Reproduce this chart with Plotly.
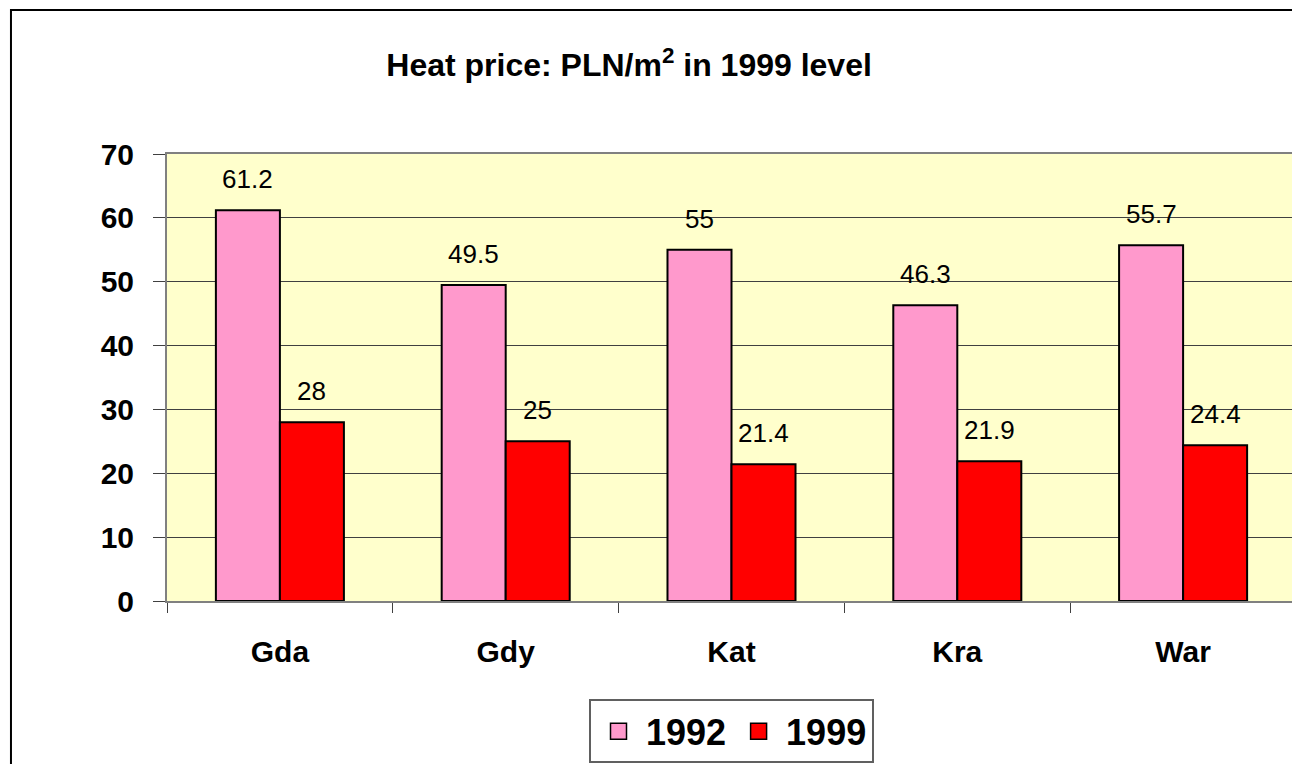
import plotly.graph_objects as go

cities = ["Gda", "Gdy", "Kat", "Kra", "War"]
price_1992 = [61.2, 49.5, 55, 46.3, 55.7]
price_1999 = [28, 25, 21.4, 21.9, 24.4]
label_1992 = ["61.2", "49.5", "55", "46.3", "55.7"]
label_1999 = ["28", "25", "21.4", "21.9", "24.4"]
series_names = ["1992", "1999"]

PINK = "#FF99CC"
RED = "#FF0000"
FONT = "Liberation Sans, Arial, sans-serif"

fig = go.Figure()
fig.add_trace(go.Bar(name=series_names[0], x=cities, y=price_1992, showlegend=False,
                     marker=dict(color=PINK, line=dict(color="black", width=2))))
fig.add_trace(go.Bar(name=series_names[1], x=cities, y=price_1999, showlegend=False,
                     marker=dict(color=RED, line=dict(color="black", width=2))))
# legend entries with larger square swatches
for nm, col in zip(series_names, [PINK, RED]):
    fig.add_trace(go.Scatter(name=nm, x=[None], y=[None], mode="markers",
                             marker=dict(symbol="square", size=16, color=col,
                                         line=dict(color="black", width=1.5))))

annotations = []
for c, v, t in zip(cities, price_1992, label_1992):
    annotations.append(dict(x=c, y=v, text=t, xref="x", yref="y", showarrow=False,
                            xshift=-32, yshift=31, yanchor="middle",
                            font=dict(family=FONT, size=26, color="black")))
for c, v, t in zip(cities, price_1999, label_1999):
    annotations.append(dict(x=c, y=v, text=t, xref="x", yref="y", showarrow=False,
                            xshift=32, yshift=31, yanchor="middle",
                            font=dict(family=FONT, size=26, color="black")))

fig.update_layout(
    width=1292, height=756,
    margin=dict(l=159, r=4, t=146, b=163, autoexpand=False),
    paper_bgcolor="white",
    plot_bgcolor="#FFFFCC",
    barmode="group",
    bargap=0.433,
    bargroupgap=0,
    font=dict(family=FONT, color="black"),
    title=dict(text="<b>Heat price: PLN/m<sup>2</sup> in 1999 level</b>",
               x=0.4807, xref="container", xanchor="center",
               y=1 - 57 / 756, yref="container", yanchor="middle",
               font=dict(family=FONT, size=32, color="black")),
    xaxis=dict(tickson="boundaries", ticks="outside", ticklen=10, tickcolor="#404040",
               tickwidth=1, showline=True, linecolor="#808080", linewidth=2, mirror=True,
               showgrid=False, ticklabelstandoff=23,
               tickfont=dict(family=FONT, size=30, color="black", weight="bold")),
    yaxis=dict(range=[0, 70], dtick=10, ticks="outside", ticklen=12, tickcolor="#404040",
               tickwidth=1, showline=True, linecolor="#808080", linewidth=2, mirror=True,
               showgrid=True, gridcolor="#404040", gridwidth=1, zeroline=False,
               ticklabelstandoff=13,
               tickfont=dict(family=FONT, size=30, color="black", weight="bold")),
    legend=dict(orientation="h", x=0.5, xanchor="center", y=-0.22, yanchor="top",
                itemwidth=45,
                bordercolor="#606060", borderwidth=2, bgcolor="white",
                font=dict(family=FONT, size=36, color="black", weight="bold")),
    annotations=annotations,
    shapes=[dict(type="rect", xref="paper", yref="paper",
                 x0=-0.1382, x1=1.1, y0=-0.6, y1=1.3221,
                 line=dict(color="black", width=2), layer="below")],
)

fig.write_html("out.html")
